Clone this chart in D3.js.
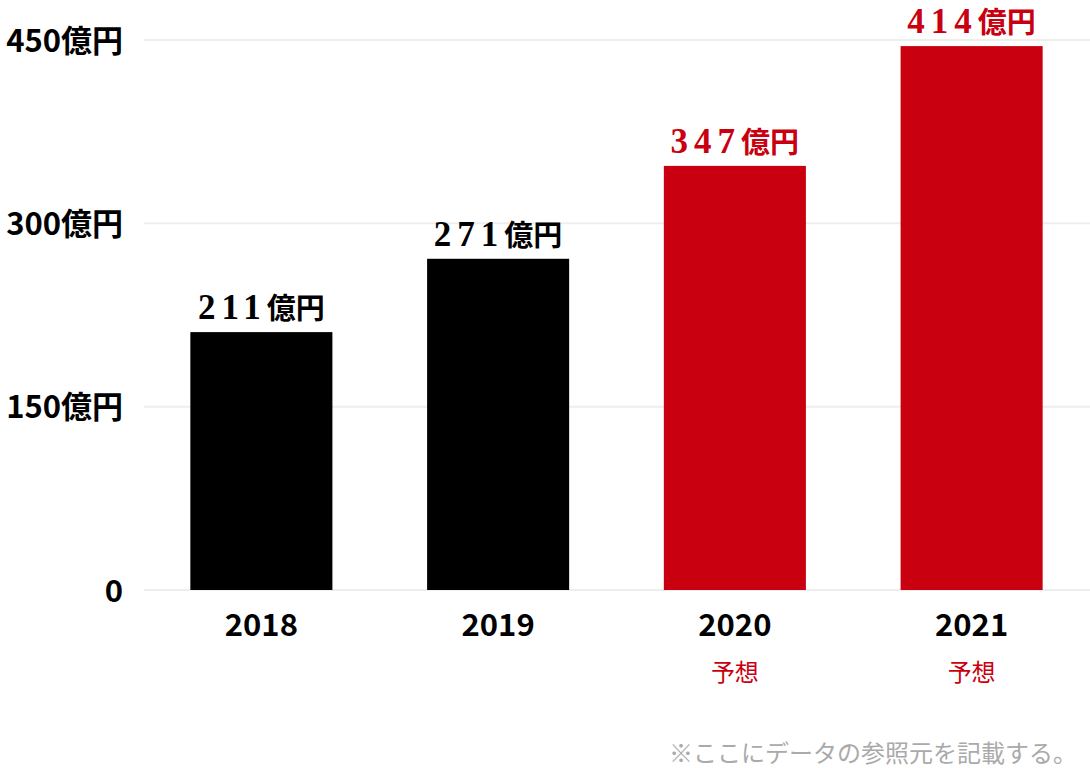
<!DOCTYPE html>
<html><head><meta charset="utf-8">
<script src="https://cdn.jsdelivr.net/npm/d3@7"></script>
<style>
html,body{margin:0;padding:0;background:#fff;}
svg{display:block;}
</style></head>
<body>
<svg id="chart" width="1090" height="768"></svg>
<script>
const years = ["2018", "2019", "2020", "2021"];
const barValues = [211, 271, 347, 445];
const labelNumbers = ["211", "271", "347", "414"];
const labelUnit = "億円";
const forecast = [false, false, true, true];
const forecastNote = "予想";
const yTicks = [0, 150, 300, 450];
const yTickLabels = ["0", "150億円", "300億円", "450億円"];
const footnote = "※ここにデータの参照元を記載する。";

const RED = "#c9000f";
const svg = d3.select("#chart");
const sans = "'Noto Sans CJK JP','Noto Sans',sans-serif";

const x = d3.scaleBand().domain(years).range([143, 1090]).paddingInner(0.4).paddingOuter(0.2);
const y = d3.scaleLinear().domain([0, 450]).range([590, 40]);

// gridlines
svg.append("g").selectAll("line").data(yTicks).join("line")
  .attr("x1", 144).attr("x2", 1090)
  .attr("y1", d => y(d)).attr("y2", d => y(d))
  .attr("stroke", "#eeeeee").attr("stroke-width", 2);

// y labels
svg.append("g").selectAll("text").data(yTicks).join("text")
  .attr("x", 123).attr("y", d => y(d) - 2)
  .attr("text-anchor", "end").attr("dominant-baseline", "central")
  .style("font-family", sans).style("font-weight", 700).style("font-size", "31px")
  .attr("fill", "#000")
  .text((d, i) => yTickLabels[i]);

// bars
svg.append("g").selectAll("rect").data(years).join("rect")
  .attr("x", d => x(d)).attr("width", x.bandwidth())
  .attr("y", (d, i) => y(barValues[i]))
  .attr("height", (d, i) => y(0) - y(barValues[i]))
  .attr("fill", (d, i) => forecast[i] ? RED : "#000");

// value labels
const lbl = svg.append("g").selectAll("text").data(years).join("text")
  .attr("x", d => x(d) + x.bandwidth() / 2)
  .attr("y", (d, i) => y(barValues[i]) - 13)
  .attr("text-anchor", "middle")
  .attr("fill", (d, i) => forecast[i] ? RED : "#000")
  .style("font-weight", 700);
lbl.append("tspan")
  .style("font-family", "'Liberation Serif','DejaVu Serif',serif")
  .style("font-size", "35px").style("letter-spacing", "6px")
  .text((d, i) => labelNumbers[i]);
lbl.append("tspan")
  .style("font-family", "'Noto Sans CJK JP',sans-serif")
  .style("font-size", "29px")
  .text(labelUnit);

// x labels
svg.append("g").selectAll("text").data(years).join("text")
  .attr("x", d => x(d) + x.bandwidth() / 2)
  .attr("y", 622).attr("text-anchor", "middle").attr("dominant-baseline", "central")
  .style("font-family", sans).style("font-weight", 700).style("font-size", "31px")
  .attr("fill", "#000").text(d => d);

// forecast notes
svg.append("g").selectAll("text").data(years.filter((d, i) => forecast[i])).join("text")
  .attr("x", d => x(d) + x.bandwidth() / 2)
  .attr("y", 670).attr("text-anchor", "middle").attr("dominant-baseline", "central")
  .style("font-family", sans).style("font-weight", 400).style("font-size", "24px")
  .attr("fill", RED).text(forecastNote);

// footnote
svg.append("text")
  .attr("x", 1077).attr("y", 751).attr("text-anchor", "end").attr("dominant-baseline", "central")
  .style("font-family", sans).style("font-size", "24px")
  .attr("fill", "#aaaaaa").text(footnote);
</script>
</body></html>
